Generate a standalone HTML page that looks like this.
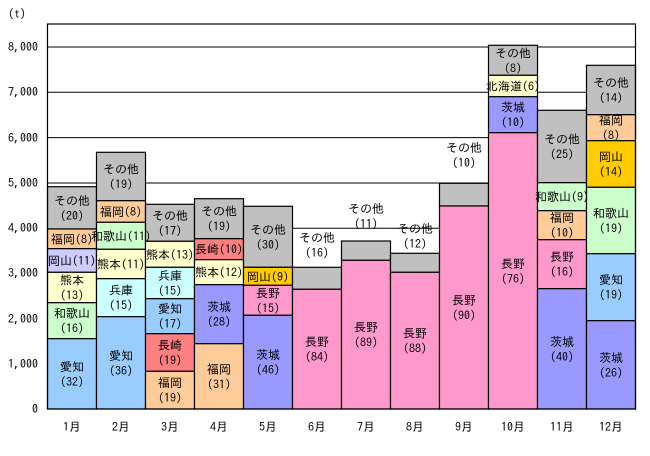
<!DOCTYPE html>
<html><head><meta charset="utf-8"><style>
body{margin:0;background:#fff}
svg text{font-family:"IPAGothic","Liberation Sans","Noto Sans CJK JP",sans-serif;font-size:12px;fill:#000}
</style></head><body>
<svg width="650" height="451" xmlns="http://www.w3.org/2000/svg">
<rect width="650" height="451" fill="#fff"/>
<g stroke="#000" stroke-width="1">
<line x1="47" y1="47" x2="635" y2="47"/><line x1="47" y1="92.3" x2="635" y2="92.3"/>
<line x1="47" y1="137.6" x2="635" y2="137.6"/><line x1="47" y1="183" x2="635" y2="183"/>
<line x1="47" y1="228.3" x2="635" y2="228.3"/><line x1="47" y1="273.6" x2="635" y2="273.6"/>
<line x1="47" y1="318.9" x2="635" y2="318.9"/><line x1="47" y1="364.2" x2="635" y2="364.2"/>
</g>
<g id="bars" stroke="#000" stroke-width="1.2"></g>
<rect x="47.5" y="24" width="588" height="385" fill="none" stroke="#000" stroke-width="1.2"/>
<g text-anchor="end">
<text x="38" y="51">8,000</text><text x="38" y="96">7,000</text><text x="38" y="142">6,000</text>
<text x="38" y="187">5,000</text><text x="38" y="232">4,000</text><text x="38" y="277">3,000</text>
<text x="38" y="323">2,000</text><text x="38" y="368">1,000</text><text x="38" y="413">0</text>
</g>
<text x="8" y="18">(t)</text>
<g id="xl" text-anchor="middle"></g>
<g id="lab" text-anchor="middle"></g>
</svg>
<script>
var G='#c0c0c0',P='#ffcc99',GR='#ccffcc',Y='#ffffcc',L='#ccccff',B='#99ccff',C='#ccffff',R='#ff8080',PU='#9999ff',PK='#ff99cc',GO='#ffcc00';
var d=[
[[186.7,229,G,'その他','(20)'],[229,248.7,P,'福岡(8)'],[248.7,272.3,L,'岡山(11)'],[272.3,302.7,Y,'熊本','(13)'],[302.7,338.7,GR,'和歌山','(16)'],[338.7,409,B,'愛知','(32)']],
[[152.3,200.7,G,'その他','(19)'],[200.7,222.3,P,'福岡(8)'],[222.3,249.3,GR,'和歌山(11)'],[249.3,278.7,Y,'熊本(11)'],[278.7,316.7,C,'兵庫','(15)'],[316.7,409,B,'愛知','(36)']],
[[204.3,241.3,G,'その他','(17)'],[241.3,267.3,Y,'熊本(13)'],[267.3,298.7,C,'兵庫','(15)'],[298.7,333.7,B,'愛知','(17)'],[333.7,371.3,R,'長崎','(19)'],[371.3,409,P,'福岡','(19)']],
[[198.7,238.7,G,'その他','(19)'],[238.7,259.7,R,'長崎(10)'],[259.7,284.7,Y,'熊本(12)'],[284.7,343.7,PU,'茨城','(28)'],[343.7,409,P,'福岡','(31)']],
[[206.3,267.3,G,'その他','(30)'],[267.3,285.3,GO,'岡山(9)'],[285.3,315.3,PK,'長野','(15)'],[315.3,409,PU,'茨城','(46)']],
[[267.3,289.3,G],[289.3,409,PK,'長野','(84)']],
[[241,260.3,G],[260.3,409,PK,'長野','(89)']],
[[253.3,272.3,G],[272.3,409,PK,'長野','(88)']],
[[183.3,206,G],[206,409,PK,'長野','(90)']],
[[45.3,75.3,G,'その他','(8)'],[75.3,96.7,Y,'北海道(6)'],[96.7,132.7,PU,'茨城','(10)'],[132.7,409,PK,'長野','(76)']],
[[110.3,182.7,G,'その他','(25)'],[182.7,210.7,GR,'和歌山(9)'],[210.7,239.7,P,'福岡','(10)'],[239.7,288.7,PK,'長野','(16)'],[288.7,409,PU,'茨城','(40)']],
[[65.3,114.7,G,'その他','(14)'],[114.7,140.7,P,'福岡','(8)'],[140.7,187.3,GO,'岡山','(14)'],[187.3,253.7,GR,'和歌山','(19)'],[253.7,320.7,B,'愛知','(19)'],[320.7,409,PU,'茨城','(26)']]
];
var out={5:[242,'(16)'],6:[213,'(11)'],7:[233,'(12)'],8:[152,'(10)']};
var ns='http://www.w3.org/2000/svg',bars=document.getElementById('bars'),lab=document.getElementById('lab'),xl=document.getElementById('xl');
function T(p,x,y,s,fs){var t=document.createElementNS(ns,'text');t.setAttribute('x',x);t.setAttribute('y',y);if(fs)t.setAttribute('font-size',fs);t.textContent=s;p.appendChild(t);}
d.forEach(function(m,i){var x=47.5+i*49,cx=x+24.5;
m.forEach(function(s){var r=document.createElementNS(ns,'rect');r.setAttribute('x',x);r.setAttribute('y',s[0]);r.setAttribute('width',49);r.setAttribute('height',s[1]-s[0]);r.setAttribute('fill',s[2]);bars.appendChild(r);
var c=(s[0]+s[1])/2;var fs=s[3]&&s[3].length>=6?11:null;
if(s[4]){T(lab,cx,c-3,s[3],fs);T(lab,cx,c+12,s[4],fs);}else if(s[3]){T(lab,cx,c+4.5,s[3],fs);}});
if(out[i]){T(lab,cx,out[i][0],'その他');T(lab,cx,out[i][0]+15,out[i][1]);}
T(xl,cx,431,(i+1)+'月');});
</script>
</body></html>
